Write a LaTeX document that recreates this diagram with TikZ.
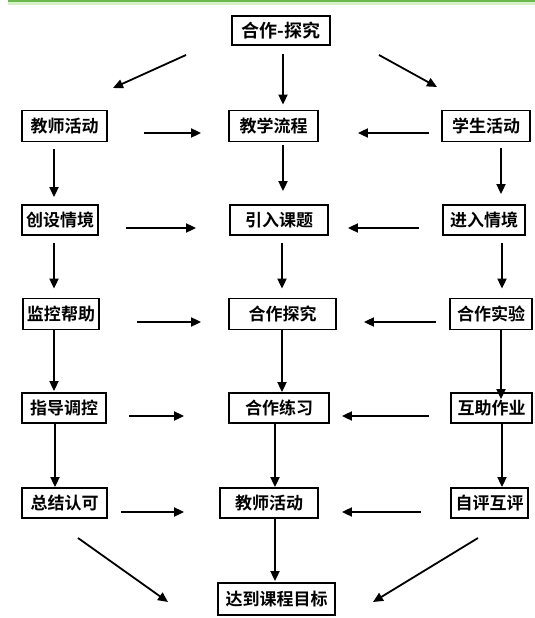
\documentclass[tikz,border=0pt]{standalone}
\usepackage{fontspec}
\newfontfamily\cjk{Noto Sans CJK SC}[BoldFont={Noto Sans CJK SC Bold}]
\usetikzlibrary{arrows.meta}
\definecolor{topgreen}{RGB}{108,184,78}
\definecolor{topgreenlight}{RGB}{214,240,200}
\begin{document}
\begin{tikzpicture}[x=1pt,y=-1pt,
  box/.style={draw, line width=1.8pt, inner sep=0pt, font=\cjk\bfseries\fontsize{17}{17}\selectfont},
  wh/.style 2 args={minimum width=#1pt, minimum height=#2pt},
  arr/.style={line width=1.8pt, -{Triangle[length=10pt,width=9pt]}},
  sh/.style 2 args={shorten <=#1pt, shorten >=#2pt},
  ]
\useasboundingbox[fill=white] (0,0) rectangle (535,618);
\fill[topgreen] (8,0) rectangle (535,2.5);
\fill[topgreenlight] (8,2.5) rectangle (535,5);

% nodes
\node[box, wh={98}{29}, font=\cjk\bfseries\fontsize{18}{18}\selectfont] (top) at (281,30.5) {合作-探究};

\node[box, wh={85}{31}] (r2a) at (64.5,126) {教师活动};
\node[box, wh={89}{31}] (r2b) at (273.5,126) {教学流程};
\node[box, wh={88}{31}] (r2c) at (486,126) {学生活动};

\node[box, wh={76}{30}] (r3a) at (60,220) {创设情境};
\node[box, wh={98}{30}] (r3b) at (279,220) {引入课题};
\node[box, wh={82}{30}] (r3c) at (484,220) {进入情境};

\node[box, wh={76}{31}] (r4a) at (61,314) {监控帮助};
\node[box, wh={107}{31}] (r4b) at (282.5,314) {合作探究};
\node[box, wh={82}{31}] (r4c) at (491,314) {合作实验};

\node[box, wh={84}{30}] (r5a) at (64,408) {指导调控};
\node[box, wh={100}{30}] (r5b) at (279,408) {合作练习};
\node[box, wh={81}{30}] (r5c) at (491.5,408) {互助作业};

\node[box, wh={85}{30}] (r6a) at (64.5,503) {总结认可};
\node[box, wh={98}{30}] (r6b) at (269,503) {教师活动};
\node[box, wh={77}{30}] (r6c) at (489.5,503) {自评互评};

\node[box, wh={117}{32}] (goal) at (276.5,599) {达到课程目标};

% free ends of the diagonal arrows
\coordinate (tlA) at (186,55);  \coordinate (tlB) at (113,88);
\coordinate (trA) at (379,55);  \coordinate (trB) at (437,87);
\coordinate (blA) at (78,538);  \coordinate (blB) at (168,602);
\coordinate (brA) at (478,538); \coordinate (brB) at (373,602);

% top arrows
\draw[arr] (tlA) -- (tlB);
\draw[arr, sh={8}{5}] (top.south -| 283,0) -- (r2b.north -| 283,0);
\draw[arr] (trA) -- (trB);

% vertical arrows, left column
\draw[arr, sh={7}{7}] (r2a.south -| 54,0) -- (r3a.north -| 54,0);
\draw[arr, sh={7}{9}] (r3a.south -| 54,0) -- (r4a.north -| 54,0);
\draw[arr, sh={0}{1}] (r4a.south -| 54,0) -- (r5a.north -| 54,0);
\draw[arr, sh={0}{0}] (r5a.south -| 55,0) -- (r6a.north -| 55,0);

% vertical arrows, centre column
\draw[arr, sh={3}{13}] (r2b.south -| 283,0) -- (r3b.north -| 283,0);
\draw[arr, sh={7}{9}] (r3b.south -| 282,0) -- (r4b.north -| 282,0);
\draw[arr, sh={0}{0}] (r4b.south -| 282,0) -- (r5b.north -| 282,0);
\draw[arr, sh={0}{0}] (r5b.south -| 275,0) -- (r6b.north -| 275,0);
\draw[arr, sh={0}{1}] (r6b.south -| 275,0) -- (goal.north -| 275,0);

% vertical arrows, right column
\draw[arr, sh={6}{10}] (r2c.south -| 501,0) -- (r3c.north -| 501,0);
\draw[arr, sh={7}{9}] (r3c.south -| 502,0) -- (r4c.north -| 502,0);
\draw[arr, sh={0}{-7}] (r4c.south -| 501,0) -- (r5c.north -| 501,0);
\draw[arr, sh={0}{0}] (r5c.south -| 502,0) -- (r6c.north -| 502,0);

% horizontal arrows
\draw[arr, sh={36}{27}] (r2a.east |- 0,133) -- (r2b.west |- 0,133);
\draw[arr, sh={12}{39}] (r2c.west |- 0,133) -- (r2b.east |- 0,133);
\draw[arr, sh={27}{33}] (r3a.east |- 0,228) -- (r3b.west |- 0,228);
\draw[arr, sh={23}{19}] (r3c.west |- 0,228) -- (r3b.east |- 0,228);
\draw[arr, sh={37}{27}] (r4a.east |- 0,322) -- (r4b.west |- 0,322);
\draw[arr, sh={13}{27}] (r4c.west |- 0,322) -- (r4b.east |- 0,322);
\draw[arr, sh={22}{44}] (r5a.east |- 0,416) -- (r5b.west |- 0,416);
\draw[arr, sh={21}{12}] (r5c.west |- 0,416) -- (r5b.east |- 0,416);
\draw[arr, sh={13}{35}] (r6a.east |- 0,512) -- (r6b.west |- 0,512);
\draw[arr, sh={29}{23}] (r6c.west |- 0,512) -- (r6b.east |- 0,512);

% bottom diagonals
\draw[arr] (blA) -- (blB);
\draw[arr] (brA) -- (brB);
\end{tikzpicture}
\end{document}
